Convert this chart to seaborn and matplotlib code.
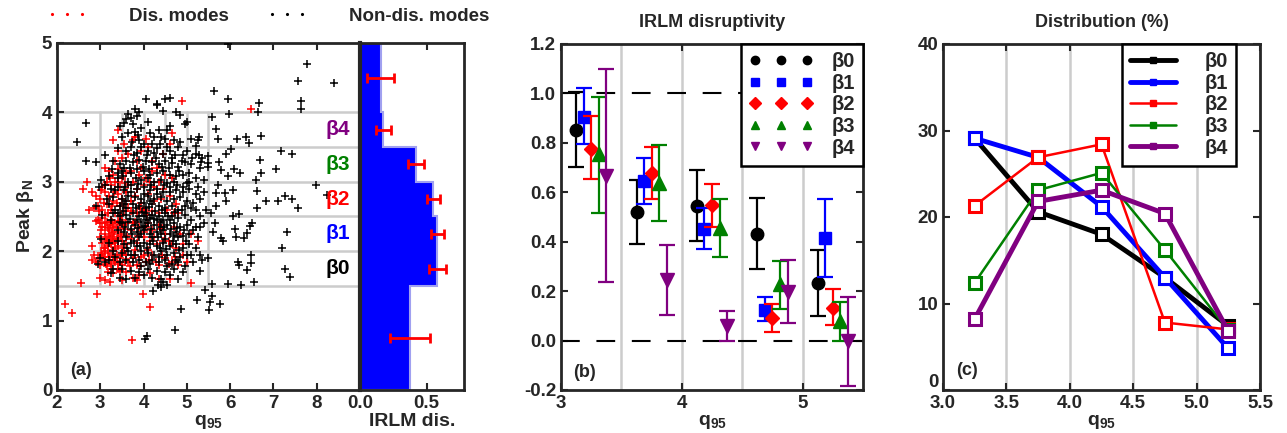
import numpy as np
import pandas as pd
import matplotlib
matplotlib.use("Agg")
import matplotlib.pyplot as plt
from matplotlib.lines import Line2D
from matplotlib.transforms import ScaledTranslation
import seaborn as sns

# ---------------- data ----------------
# Panel (a): scatter of peak beta_N vs q95
non_dis_pts = [
    (5.95, 4.98), (7.77, 4.70), (7.57, 4.45), (8.41, 4.43), (7.63, 4.17), (7.63, 4.05), (6.67, 4.13),
    (6.65, 4.00), (5.94, 4.19), (5.62, 4.31), (5.98, 3.98), (5.57, 3.94), (6.71, 3.66), (6.37, 3.64),
    (6.44, 3.56), (6.15, 3.61), (7.18, 3.45), (7.44, 3.40), (6.69, 3.31), (6.71, 3.13), (7.07, 3.18),
    (7.99, 2.95), (8.23, 2.81), (7.27, 2.79), (7.42, 2.75), (7.10, 2.73), (6.82, 2.73), (7.57, 2.62),
    (6.63, 2.62), (6.63, 2.87), (6.59, 3.03), (7.32, 2.28), (7.19, 2.04), (7.26, 1.75), (7.38, 1.63),
    (6.55, 1.55), (6.25, 1.51), (5.94, 1.53), (5.57, 1.53), (6.49, 1.94), (6.48, 1.83), (6.38, 1.73),
    (6.19, 1.85), (6.21, 1.80), (6.51, 2.40), (6.45, 2.36), (6.40, 2.26), (6.33, 2.19), (6.12, 2.32),
    (6.06, 2.50), (6.21, 2.54), (6.13, 2.20), (5.80, 2.19), (5.84, 2.15), (5.61, 2.28), (5.65, 2.41),
    (5.56, 2.55), (5.67, 2.65), (5.90, 2.72), (6.06, 2.88), (5.88, 2.84), (5.67, 2.84), (5.71, 2.96),
    (5.94, 3.08), (6.22, 3.13), (6.09, 3.18), (5.79, 3.17), (5.75, 3.28), (5.50, 3.27), (5.33, 3.28),
    (5.71, 3.61), (5.67, 3.76), (5.49, 3.37), (5.29, 3.39), (5.20, 3.51), (5.29, 3.65), (6.02, 3.47),
    (5.90, 3.40), (5.42, 1.44), (5.23, 1.30), (5.57, 1.36), (5.53, 1.27), (5.52, 1.15), (5.76, 1.24),
    (4.87, 1.16), (4.73, 0.87), (4.07, 0.78), (4.03, 0.73), (4.21, 1.43), (4.44, 1.56), (4.33, 1.51),
    (2.46, 3.58), (2.68, 3.85), (2.66, 3.30), (2.91, 3.28), (2.37, 2.39), (3.01, 3.03), (2.90, 2.65),
    (2.98, 2.92),
    (4.05, 4.20), (4.50, 4.20), (4.60, 4.21), (4.30, 4.12), (4.31, 4.10), (3.80, 4.05), (3.90, 4.00),
    (4.45, 4.02), (3.65, 3.98), (3.70, 3.92), (3.60, 3.90), (3.85, 3.95), (4.75, 4.00), (5.00, 3.86),
    (4.95, 3.83), (4.60, 3.80), (4.35, 3.75), (3.75, 3.83), (3.55, 3.85), (3.45, 3.80), (4.10, 3.86),
    (3.95, 3.78), (4.85, 3.96), (4.15, 3.70),
    (3.65, 3.70), (3.80, 3.72), (3.50, 3.65), (4.40, 3.65), (4.50, 3.62), (4.70, 3.60), (4.85, 3.58),
    (5.10, 3.62), (5.25, 3.60), (4.20, 3.55), (4.00, 3.55), (3.90, 3.60), (3.70, 3.50), (3.60, 3.45),
    (3.40, 3.48), (4.30, 3.48), (4.60, 3.45), (4.80, 3.50), (5.00, 3.45), (4.10, 3.45), (3.85, 3.42),
    (4.45, 3.40), (5.20, 3.40), (5.35, 3.35), (4.90, 3.38), (4.65, 3.35),
    (3.30, 3.30), (3.45, 3.25), (3.60, 3.30), (3.75, 3.28), (3.90, 3.32), (4.05, 3.30), (4.20, 3.28),
    (4.35, 3.25), (4.50, 3.30), (4.65, 3.27), (4.80, 3.22), (4.95, 3.28), (5.10, 3.25), (5.30, 3.20),
    (5.50, 3.22), (3.50, 3.15), (3.70, 3.12), (3.85, 3.18), (4.00, 3.15), (4.15, 3.10), (4.30, 3.12),
    (4.45, 3.15), (4.60, 3.10), (4.75, 3.08), (4.90, 3.10), (5.05, 3.12), (5.20, 3.05), (3.40, 3.05),
    (3.65, 3.00), (3.95, 3.02), (4.10, 3.05), (4.25, 3.00), (4.40, 3.02), (4.55, 2.98), (4.70, 3.00),
    (5.00, 2.98), (5.40, 3.02), (3.20, 3.08), (3.55, 3.20), (4.82, 3.15),
    (3.10, 2.95), (3.25, 2.90), (3.40, 2.92), (3.55, 2.88), (3.70, 2.95), (3.85, 2.90), (4.00, 2.92),
    (4.15, 2.88), (4.30, 2.90), (4.45, 2.85), (4.60, 2.92), (4.75, 2.88), (4.90, 2.85), (5.05, 2.90),
    (5.20, 2.82), (5.40, 2.85), (3.30, 2.78), (3.50, 2.75), (3.65, 2.80), (3.80, 2.78), (3.95, 2.75),
    (4.10, 2.80), (4.25, 2.75), (4.40, 2.78), (4.55, 2.72), (4.70, 2.75), (4.85, 2.78), (5.00, 2.72),
    (5.15, 2.70), (5.30, 2.75), (3.20, 2.68), (3.45, 2.65), (3.60, 2.62), (3.75, 2.68), (3.90, 2.65),
    (4.05, 2.62), (4.20, 2.68), (4.35, 2.65), (4.50, 2.62), (4.65, 2.65), (4.80, 2.60), (4.95, 2.65),
    (5.10, 2.62), (5.45, 2.60), (3.35, 2.60), (4.00, 2.70), (4.15, 2.72), (3.60, 2.72),
    (3.30, 2.55), (3.45, 2.50), (3.60, 2.52), (3.75, 2.55), (3.90, 2.50), (4.05, 2.55), (4.20, 2.52),
    (4.35, 2.50), (4.50, 2.55), (4.65, 2.50), (4.80, 2.48), (4.95, 2.52), (5.10, 2.45), (5.30, 2.50),
    (3.50, 2.40), (3.65, 2.42), (3.80, 2.38), (3.95, 2.42), (4.10, 2.40), (4.25, 2.38), (4.40, 2.42),
    (4.55, 2.38), (4.70, 2.40), (4.85, 2.35), (5.00, 2.38), (5.20, 2.35), (5.40, 2.40), (3.40, 2.30),
    (3.55, 2.28), (3.70, 2.32), (3.85, 2.28), (4.00, 2.30), (4.15, 2.25), (4.30, 2.28), (4.45, 2.30),
    (4.60, 2.25), (4.75, 2.28), (4.90, 2.22), (5.05, 2.25), (5.25, 2.20), (3.60, 2.20), (3.90, 2.20),
    (4.20, 2.20), (4.50, 2.18), (4.80, 2.20), (4.05, 2.45), (4.30, 2.45), (4.60, 2.45), (3.98, 2.35),
    (4.38, 2.35),
    (3.40, 2.15), (3.55, 2.10), (3.70, 2.12), (3.85, 2.08), (4.00, 2.12), (4.15, 2.10), (4.30, 2.08),
    (4.45, 2.12), (4.60, 2.08), (4.75, 2.10), (4.90, 2.05), (5.05, 2.10), (5.20, 2.05), (3.30, 2.00),
    (3.50, 1.98), (3.65, 2.00), (3.80, 1.95), (3.95, 2.00), (4.10, 1.98), (4.25, 1.95), (4.40, 2.00),
    (4.55, 1.95), (4.70, 1.98), (4.85, 1.92), (5.00, 1.95), (5.30, 1.95), (5.50, 1.90), (3.20, 1.88),
    (3.45, 1.85), (3.60, 1.88), (3.75, 1.85), (3.90, 1.88), (4.05, 1.85), (4.20, 1.88), (4.35, 1.85),
    (4.50, 1.88), (4.65, 1.82), (4.80, 1.85), (5.15, 1.85), (5.35, 1.88), (3.10, 1.85), (2.95, 1.82),
    (3.00, 1.90),
    (3.50, 1.75), (3.70, 1.72), (3.90, 1.70), (4.10, 1.75), (4.30, 1.72), (4.50, 1.70), (4.70, 1.75),
    (4.90, 1.70), (5.30, 1.72), (3.80, 1.62), (4.00, 1.65), (4.20, 1.62), (4.40, 1.60), (4.60, 1.65),
    (4.80, 1.60), (3.60, 1.60), (4.55, 1.52), (4.40, 1.48), (3.30, 1.75), (3.45, 1.62),
    (3.52, 2.58), (3.68, 2.47), (3.83, 2.62), (3.97, 2.57), (4.12, 2.63), (4.27, 2.58), (4.42, 2.60),
    (4.57, 2.50), (4.72, 2.57), (4.88, 2.60), (3.58, 2.35), (3.73, 2.25), (3.88, 2.33), (4.03, 2.37),
    (4.18, 2.32), (4.33, 2.20), (4.48, 2.35), (4.63, 2.32), (4.78, 2.34), (4.93, 2.30), (3.62, 2.05),
    (3.77, 2.15), (3.92, 2.07), (4.07, 2.05), (4.22, 2.15), (4.37, 2.05), (4.52, 2.03), (4.67, 2.15),
    (4.82, 2.02), (4.97, 2.15), (3.57, 2.92), (3.72, 2.85), (3.87, 2.97), (4.02, 2.83), (4.17, 2.95),
    (4.32, 2.83), (4.47, 2.95), (4.62, 2.85), (4.77, 2.95), (4.92, 2.92), (3.53, 3.08), (3.68, 3.20),
    (3.83, 3.05), (3.98, 3.22), (4.13, 3.18), (4.28, 3.35), (4.43, 3.22), (4.58, 3.20), (4.73, 3.38),
    (4.88, 3.30), (3.78, 3.38), (3.93, 3.50), (4.08, 3.38), (4.23, 3.42), (4.38, 3.55), (4.53, 3.50),
    (3.73, 3.58), (3.88, 3.68), (4.25, 3.65), (4.55, 3.75), (3.95, 1.78), (4.15, 1.82), (4.35, 1.92),
    (4.55, 1.78), (4.75, 1.88), (3.70, 1.95), (4.95, 1.78), (5.10, 1.95), (5.15, 2.30), (5.20, 2.60),
    (5.25, 2.92), (5.05, 3.00), (5.12, 3.35), (5.30, 2.35), (4.00, 2.50), (4.25, 2.47), (4.45, 2.45),
    (3.85, 2.45), (4.15, 2.48), (4.70, 2.22), (3.95, 2.25), (4.40, 2.25), (3.45, 2.42), (3.40, 2.55),
    (3.55, 2.68), (3.35, 2.88), (3.42, 3.12), (3.28, 3.18), (3.25, 2.45), (3.20, 2.12), (3.35, 1.92),
    (3.25, 1.68), (3.05, 2.52), (3.12, 3.38), (3.02, 2.18), (3.15, 2.75),
]
dis_pts = [
    (2.19, 1.24), (2.35, 1.11), (2.92, 1.38), (2.56, 1.54), (3.98, 1.38), (4.16, 1.20), (3.73, 0.72),
    (4.89, 4.16), (6.48, 4.05), (5.10, 1.54), (2.61, 2.90), (2.81, 2.07), (2.75, 2.60), (2.91, 2.44),
    (4.65, 3.71), (3.41, 3.74),
    (3.80, 3.65), (3.75, 3.60), (3.55, 3.55), (3.30, 3.60), (3.40, 3.45), (3.65, 3.40), (3.95, 3.45),
    (4.10, 3.50), (4.45, 3.40), (4.20, 3.30), (3.50, 3.35), (3.85, 3.30), (4.60, 3.55), (4.05, 3.62),
    (3.35, 3.30),
    (3.10, 3.20), (3.20, 3.15), (3.30, 3.10), (3.40, 3.18), (3.50, 3.05), (3.60, 3.12), (3.75, 3.00),
    (3.90, 3.10), (4.05, 3.05), (4.20, 3.15), (4.35, 3.00), (4.50, 3.10), (4.65, 3.05), (3.15, 3.00),
    (3.25, 2.95), (3.45, 2.92), (3.65, 2.95), (3.85, 2.90), (4.00, 2.95), (4.25, 2.92), (4.45, 2.90),
    (2.70, 3.00), (3.05, 2.92), (3.35, 3.00),
    (2.80, 2.85), (2.90, 2.80), (3.00, 2.75), (3.10, 2.85), (3.20, 2.80), (3.30, 2.72), (3.40, 2.82),
    (3.50, 2.75), (3.60, 2.85), (3.70, 2.72), (3.80, 2.80), (3.95, 2.70), (4.10, 2.82), (4.25, 2.72),
    (4.40, 2.75), (4.60, 2.80), (4.75, 2.68), (2.95, 2.65), (3.05, 2.60), (3.15, 2.68), (3.25, 2.60),
    (3.35, 2.55), (3.45, 2.65), (3.55, 2.58), (3.65, 2.62), (3.85, 2.55), (4.00, 2.60), (4.20, 2.58),
    (4.35, 2.55), (4.55, 2.60), (2.85, 2.62), (3.10, 2.52), (4.80, 2.55),
    (2.95, 2.45), (3.00, 2.40), (3.05, 2.48), (3.10, 2.35), (3.15, 2.42), (3.20, 2.30), (3.25, 2.45),
    (3.30, 2.35), (3.35, 2.40), (3.40, 2.28), (3.45, 2.38), (3.50, 2.45), (3.55, 2.32), (3.60, 2.40),
    (3.70, 2.30), (3.80, 2.42), (3.90, 2.35), (4.00, 2.28), (4.10, 2.40), (4.20, 2.30), (4.35, 2.38),
    (4.50, 2.25), (4.70, 2.35), (5.10, 2.25), (5.25, 2.15), (3.00, 2.20), (3.05, 2.12), (3.10, 2.25),
    (3.15, 2.15), (3.20, 2.20), (3.25, 2.10), (3.30, 2.18), (3.35, 2.12), (3.40, 2.20), (3.50, 2.15),
    (3.60, 2.10), (3.70, 2.18), (3.85, 2.12), (4.00, 2.20), (4.15, 2.15), (4.30, 2.10), (4.45, 2.15),
    (4.65, 2.10), (4.90, 2.10), (3.02, 2.30), (3.12, 2.05), (3.28, 2.28),
    (2.85, 1.95), (2.90, 1.85), (2.95, 1.90), (3.00, 1.80), (3.05, 1.95), (3.10, 1.88), (3.15, 1.78),
    (3.20, 1.92), (3.25, 1.82), (3.30, 1.95), (3.35, 1.85), (3.40, 1.75), (3.45, 1.90), (3.50, 1.80),
    (3.60, 1.95), (3.65, 1.85), (3.75, 1.90), (3.85, 1.80), (3.95, 1.92), (4.05, 1.85), (4.20, 1.95),
    (4.35, 1.80), (4.50, 1.90), (4.65, 1.85), (4.80, 1.80), (4.90, 1.95), (5.00, 1.85), (3.10, 2.00),
    (3.30, 2.02), (3.55, 2.00), (3.80, 2.02), (4.10, 2.02), (2.80, 1.88), (3.18, 1.70), (3.30, 1.68),
    (3.45, 1.72), (3.60, 1.70), (3.75, 1.62), (3.90, 1.65), (4.15, 1.68), (4.35, 1.60), (3.22, 1.55),
    (3.50, 1.58), (3.85, 1.58), (4.60, 1.60), (3.00, 1.62), (3.10, 1.58),
    (3.05, 2.35), (3.12, 2.40), (3.18, 2.33), (3.22, 2.38), (3.28, 2.42), (3.32, 2.25), (3.38, 2.33),
    (3.42, 2.43), (3.48, 2.25), (3.52, 2.38), (3.08, 2.05), (3.12, 2.18), (3.18, 2.08), (3.22, 2.22),
    (3.27, 2.15), (3.33, 2.05), (3.38, 2.18), (3.42, 2.08), (3.47, 2.22), (3.52, 2.05), (3.02, 1.98),
    (3.08, 1.92), (3.13, 1.82), (3.17, 1.97), (3.23, 1.88), (3.28, 1.75), (3.32, 1.88), (3.38, 1.95),
    (3.42, 1.82), (3.48, 1.95), (3.58, 1.85), (3.68, 1.78), (3.78, 1.95), (3.92, 1.78), (4.02, 1.95),
    (4.12, 1.88), (4.28, 1.85), (4.42, 1.95), (4.58, 1.82), (4.72, 1.92), (2.98, 2.58), (3.08, 2.70),
    (3.18, 2.55), (3.28, 2.65), (3.38, 2.70), (3.48, 2.52), (3.58, 2.68), (3.72, 2.58), (3.92, 2.62),
    (4.08, 2.52), (3.02, 2.88), (3.12, 2.95), (3.22, 3.05), (3.32, 2.85), (3.42, 3.00), (3.58, 2.98),
    (3.70, 3.15), (3.95, 3.20), (4.15, 3.00), (4.30, 3.20), (3.62, 2.22), (3.75, 2.40), (3.88, 2.22),
    (4.05, 2.35), (4.25, 2.20), (4.40, 2.32), (4.58, 2.15), (4.75, 2.05), (4.85, 2.25), (4.70, 2.55),
]

beta_labels = ["β0", "β1", "β2", "β3", "β4"]
beta_colors = ["#000000", "#0000ff", "#ff0000", "#008000", "#800080"]
beta_label_y = [1.75, 2.25, 2.75, 3.25, 3.75]

# histogram of IRLM disruptivity vs beta_N bins
hist_edges = [0.0, 1.5, 2.0, 2.5, 3.0, 3.5, 4.0, 5.0]
hist_vals = [0.375, 0.58, 0.58, 0.55, 0.42, 0.175, 0.155]
hist_err_y = [0.75, 1.75, 2.25, 2.75, 3.25, 3.75, 4.5]
hist_err = [0.15, 0.066, 0.049, 0.05, 0.057, 0.058, 0.102]

# Panel (b): disruptivity per q95 bin and beta bin
q_bins = [3.25, 3.75, 4.25, 4.75, 5.25]
q_offsets = [-0.125, -0.0625, 0.0, 0.0625, 0.125]
dis_val = {
    "β0": [0.854, 0.520, 0.545, 0.432, 0.234],
    "β1": [0.903, 0.645, 0.450, 0.122, 0.416],
    "β2": [0.777, 0.678, 0.547, 0.092, 0.132],
    "β3": [0.754, 0.638, 0.457, 0.227, 0.081],
    "β4": [0.665, 0.246, 0.057, 0.196, 0.000],
}
dis_hi = {
    "β0": [1.007, 0.649, 0.689, 0.577, 0.365],
    "β1": [1.020, 0.739, 0.536, 0.176, 0.572],
    "β2": [0.908, 0.784, 0.632, 0.149, 0.210],
    "β3": [0.986, 0.791, 0.574, 0.320, 0.155],
    "β4": [1.099, 0.388, 0.120, 0.327, 0.178],
}
dis_lo = {
    "β0": [0.703, 0.392, 0.403, 0.289, 0.101],
    "β1": [0.795, 0.554, 0.372, 0.078, 0.257],
    "β2": [0.653, 0.574, 0.459, 0.034, 0.061],
    "β3": [0.516, 0.482, 0.338, 0.128, 0.000],
    "β4": [0.236, 0.105, 0.000, 0.070, -0.185],
}
b_markers = ["o", "s", "D", "^", "v"]

# Panel (c): distribution (%)
dist_val = {
    "β0": [29.1, 20.6, 18.0, 13.0, 7.4],
    "β1": [29.1, 26.9, 21.2, 13.0, 4.8],
    "β2": [21.3, 26.9, 28.4, 7.8, 7.0],
    "β3": [12.4, 23.1, 25.1, 16.2, 6.9],
    "β4": [8.2, 21.8, 23.1, 20.4, 6.8],
}
c_widths = [3.5, 3.5, 1.8, 1.8, 3.5]

# ---------------- style ----------------
sns.set_style("ticks")
plt.rcParams["font.family"] = ["Liberation Sans", "DejaVu Sans"]
plt.rcParams["font.weight"] = "bold"
plt.rcParams["axes.labelweight"] = "bold"
plt.rcParams["axes.titleweight"] = "bold"
plt.rcParams["mathtext.fontset"] = "custom"
plt.rcParams["mathtext.rm"] = "Liberation Sans:bold"
plt.rcParams["mathtext.it"] = "Liberation Sans:bold"
plt.rcParams["mathtext.bf"] = "Liberation Sans:bold"
plt.rcParams["mathtext.default"] = "rm"
plt.rcParams["axes.linewidth"] = 2.0
plt.rcParams["xtick.direction"] = "in"
plt.rcParams["ytick.direction"] = "in"
plt.rcParams["xtick.major.width"] = 1.5
plt.rcParams["ytick.major.width"] = 1.5
plt.rcParams["xtick.major.size"] = 5
plt.rcParams["ytick.major.size"] = 5
plt.rcParams["xtick.top"] = True
plt.rcParams["ytick.right"] = True
plt.rcParams["xtick.labelsize"] = 13.5
plt.rcParams["ytick.labelsize"] = 13.5

W, H = 1287, 433
fig = plt.figure(figsize=(W / 100, H / 100), dpi=100)


def rect(l, r, t, b):
    return [l / W, 1 - b / H, (r - l) / W, (b - t) / H]


GRAY = "#cccccc"
ax_a = fig.add_axes(rect(57, 360, 43, 390))
ax_h = fig.add_axes(rect(360, 464, 43, 390))
ax_b = fig.add_axes(rect(561, 863, 44, 390))
ax_c = fig.add_axes(rect(943, 1260, 44, 390))

# ---------------- panel (a) ----------------
for yv in [1.5, 2.0, 2.5, 3.0, 3.5, 4.0]:
    ax_a.axhline(yv, color=GRAY, lw=1.8, zorder=0)
for xv in [3.0, 3.5, 4.0, 4.5, 5.0, 5.5]:
    ax_a.plot([xv, xv], [1.5, 4.0], color=GRAY, lw=1.8, zorder=0)

df_dis = pd.DataFrame(dis_pts, columns=["q95", "beta"])
df_non = pd.DataFrame(non_dis_pts, columns=["q95", "beta"])
sns.scatterplot(data=df_dis, x="q95", y="beta", ax=ax_a, marker="+", s=40,
                color="#ff0000", linewidth=1.1, zorder=2, legend=False)
sns.scatterplot(data=df_non, x="q95", y="beta", ax=ax_a, marker="+", s=40,
                color="#000000", linewidth=1.1, zorder=3, legend=False)
for lab, col, yv in zip(beta_labels, beta_colors, beta_label_y):
    ax_a.text(8.78, yv, lab, color=col, fontsize=15, ha="right", va="center", zorder=4)
ax_a.text(2.3, 0.28, "(a)", fontsize=13, ha="left", va="center")
ax_a.set_xlim(2, 9)
ax_a.set_ylim(0, 5)
ax_a.set_xticks([2, 3, 4, 5, 6, 7, 8])
ax_a.set_yticks([0, 1, 2, 3, 4, 5])
ax_a.tick_params(right=False)
ax_a.set_xlabel(r"q$_{95}$", fontsize=14, labelpad=1)
ax_a.set_ylabel(r"Peak β$_N$", fontsize=14, labelpad=4)

# histogram
ax_h.stairs(hist_vals, hist_edges, orientation="horizontal", fill=True,
            color="#0000ff", zorder=1)
ax_h.stairs(hist_vals, hist_edges, orientation="horizontal", fill=False,
            color="#a0a0f0", lw=1.5, zorder=2)
ax_h.errorbar(hist_vals, hist_err_y, xerr=hist_err, fmt="none", ecolor="#ff0000",
              elinewidth=2, capsize=3.5, capthick=2, zorder=3)
ax_h.set_xlim(0, 0.78)
ax_h.set_ylim(0, 5)
ax_h.set_xticks([0.0, 0.5])
ax_h.set_xticklabels(["0.0", "0.5"])
ax_h.set_yticks([1, 2, 3, 4])
ax_h.set_yticklabels([])
ax_h.tick_params(axis="y", left=True, right=False)
ax_h.set_xlabel("IRLM dis.", fontsize=14, labelpad=1)
ax_h.spines["left"].set_linewidth(3)

fig.legend(handles=[Line2D([], [], ls="none", marker=".", ms=2.5, color="#ff0000"),
                    Line2D([], [], ls="none", marker=".", ms=2.5, color="#000000")],
           labels=["Dis. modes", "Non-dis. modes"], ncol=2, numpoints=3,
           loc="center", bbox_to_anchor=(268 / W, 1 - 16 / H), frameon=False,
           fontsize=13.5, handlelength=2.2, handletextpad=2.2, columnspacing=2.0)

# ---------------- panel (b) ----------------
for xv in [3.5, 4.0, 4.5, 5.0]:
    ax_b.axvline(xv, color=GRAY, lw=1.8, zorder=0)
for yv in [0.0, 1.0]:
    ax_b.axhline(yv, color="black", lw=1.5, dashes=(9, 8), zorder=1)
b_handles = []
for k, (lab, col, mk) in enumerate(zip(beta_labels, beta_colors, b_markers)):
    xs = np.array(q_bins) + q_offsets[k]
    ys = np.array(dis_val[lab])
    lo = np.array(dis_lo[lab])
    hi = np.array(dis_hi[lab])
    ms = 9 if mk in ("o", "s") else (7.5 if mk == "D" else 10)
    ax_b.errorbar(xs, ys, yerr=[ys - lo, hi - ys], fmt=mk, color=col, ms=ms,
                  elinewidth=1.6, capsize=6, capthick=1.6, zorder=3 + k)
    b_handles.append(Line2D([], [], ls="none", marker=mk, color=col, ms=6))
ax_b.legend(b_handles, beta_labels, loc="upper right", bbox_to_anchor=(1.0, 1.0),
            borderaxespad=0, numpoints=3, fontsize=14.5, fancybox=False,
            edgecolor="black", framealpha=1, handlelength=3.2, handletextpad=0.9,
            borderpad=0.4, labelspacing=0.13).get_frame().set_linewidth(1.8)
ax_b.text(3.1, -0.13, "(b)", fontsize=13, ha="left", va="center")
ax_b.set_xlim(3, 5.5)
ax_b.set_ylim(-0.2, 1.2)
ax_b.set_xticks([3, 4, 5])
ax_b.set_yticks(np.round(np.arange(-0.2, 1.21, 0.2), 1))
ax_b.yaxis.set_major_formatter(matplotlib.ticker.FormatStrFormatter("%.1f"))
ax_b.set_xlabel(r"q$_{95}$", fontsize=14, labelpad=1)
ax_b.set_title("IRLM disruptivity", fontsize=13, pad=12)

# ---------------- panel (c) ----------------
for xv in [3.5, 4.0, 4.5, 5.0]:
    ax_c.axvline(xv, color=GRAY, lw=1.8, zorder=0)
c_handles = []
for k, (lab, col) in enumerate(zip(beta_labels, beta_colors)):
    dfc = pd.DataFrame({"q95": q_bins, "pct": dist_val[lab]})
    sns.lineplot(data=dfc, x="q95", y="pct", ax=ax_c, color=col, lw=c_widths[k],
                 marker="s", ms=9, mfc="white", mec=col, mew=2.2, zorder=2 + k,
                 legend=False)
    c_handles.append(Line2D([], [], color=col, lw=c_widths[k], marker="s", ms=4))
ax_c.legend(c_handles, beta_labels, loc="upper right", bbox_to_anchor=(0.925, 1.0),
            borderaxespad=0, fontsize=14.5, fancybox=False, edgecolor="black",
            framealpha=1, handlelength=2.3, handletextpad=1.4, borderpad=0.4,
            labelspacing=0.13).get_frame().set_linewidth(1.8)
ax_c.text(3.1, 2.2, "(c)", fontsize=13, ha="left", va="center")
ax_c.set_xlim(3.0, 5.5)
ax_c.set_ylim(0, 40)
ax_c.set_xticks([3.0, 3.5, 4.0, 4.5, 5.0, 5.5])
ax_c.xaxis.set_major_formatter(matplotlib.ticker.FormatStrFormatter("%.1f"))
ax_c.set_yticks([0, 10, 20, 30, 40])
ax_c.set_xlabel(r"q$_{95}$", fontsize=14, labelpad=1)
ax_c.set_ylabel("")
ax_c.set_title("Distribution (%)", fontsize=13, pad=12)
# raise the "0" label a little so it clears the "3.0" label, as in the reference
ylab0 = ax_c.get_yticklabels()[0]
ylab0.set_transform(ylab0.get_transform() + ScaledTranslation(0, 7 / 72, fig.dpi_scale_trans))

fig.savefig("out.png", dpi=100)
